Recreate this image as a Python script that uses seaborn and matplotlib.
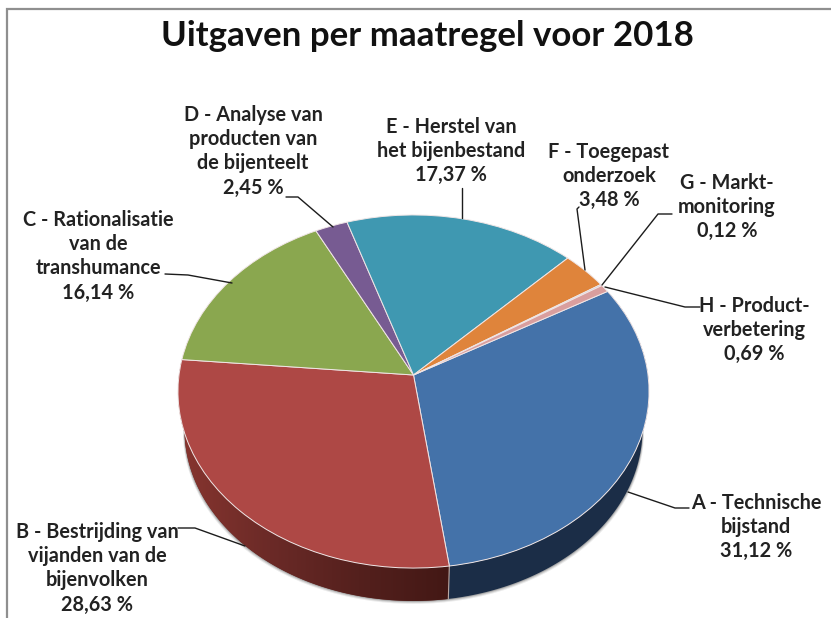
import numpy as np
import matplotlib
matplotlib.use("Agg")
import matplotlib.pyplot as plt
import seaborn as sns
from matplotlib.colors import LinearSegmentedColormap
from matplotlib.transforms import Transform

TITLE = "Uitgaven per maatregel voor 2018"
names = ["A - Technische\nbijstand",
         "B - Bestrijding van\nvijanden van de\nbijenvolken",
         "C - Rationalisatie\nvan de\ntranshumance",
         "D - Analyse van\nproducten van\nde bijenteelt",
         "E - Herstel van\nhet bijenbestand",
         "F - Toegepast\nonderzoek",
         "G - Markt-\nmonitoring",
         "H - Product-\nverbetering"]
shares = [31.12, 28.63, 16.14, 2.45, 17.37, 3.48, 0.12, 0.69]
colors = ["#4472a9", "#ae4845", "#8aa74f", "#775b92", "#3f98b1", "#df843b", "#a9bcd9", "#d99e9e"]
label_xy = [(756, 527), (97, 568), (98, 256), (253, 151), (451, 151), (609, 176), (727, 207), (754, 330)]
leaders = [[(628, 492), (675, 508), (689, 508)],
           [(245, 546), (195, 528), (178, 528)],
           [(232, 283), (188, 275), (165, 274)],
           [(333, 227), (298, 197), (286, 197)],
           [(462, 218), (462, 188)],
           [(585, 270), (577, 209), (579, 207)],
           [(602, 285), (658, 214), (672, 214)],
           [(605, 287), (685, 307), (700, 307)]]

sns.set_theme(style="white")
plt.rcParams["font.family"] = ["Lato", "DejaVu Sans"]


class Tilt(Transform):
    """Perspective view of the unit circle."""
    input_dims = output_dims = 2
    is_separable = False
    has_inverse = False

    def __init__(self, cx, cy, s, t, k=0.0935):
        super().__init__()
        self.cx, self.cy, self.s, self.t, self.k = cx, cy, s, t, k

    def transform_non_affine(self, values):
        v = np.asarray(values, dtype=float)
        w = 1 + self.k * v[:, 1]
        return np.column_stack([self.cx + self.s * v[:, 0] / w, self.cy - self.t * v[:, 1] / w])


top = Tilt(413.5, 375, 234.5, 175)
bottom = Tilt(413.5, 413.4, 228, 170)

fig = plt.figure(figsize=(8.31, 6.18), dpi=100, facecolor="white")
ax = fig.add_axes([0, 0, 1, 1])

wedges, _ = ax.pie(shares, colors=sns.color_palette(colors), startangle=30, counterclock=False,
                   wedgeprops=dict(edgecolor="#f0e6e6", linewidth=0.7, zorder=3))
for w in wedges:
    w.set_transform(top + ax.transData)


def wall(theta1, theta2):
    th = np.radians(np.linspace(theta1, theta2, 120))
    unit = np.column_stack([np.cos(th), np.sin(th)])
    return np.vstack([top.transform(unit), bottom.transform(unit)[::-1]])


# soft shadow under the rim
for off, a in [(3.0, 0.08), (2.0, 0.12), (1.0, 0.18)]:
    sh, _ = ax.pie([1], colors=["black"], wedgeprops=dict(linewidth=0, alpha=a, zorder=1))
    sh[0].set_transform(Tilt(413.5, 413.4 + off, 228 + off / 2, 170) + ax.transData)

# side walls (only A and B are visible)
poly_a = ax.fill(*wall(wedges[0].theta1, wedges[0].theta2).T, color="#1b2d47", lw=0, zorder=2)[0]
pts_b = wall(wedges[1].theta1, wedges[1].theta2)
poly_b = ax.fill(*pts_b.T, color="#5f2522", lw=0, zorder=2)[0]
cmap = LinearSegmentedColormap.from_list("side", ["#87352f", "#6b2a27", "#54201d", "#431815"])
im = ax.imshow(np.linspace(0, 1, 256)[None, :], extent=(180, 449, 610, 360), cmap=cmap,
               aspect="auto", zorder=2.1, interpolation="bilinear")
im.set_clip_path(poly_b)
x_edge = bottom.transform(np.array([[np.cos(np.radians(wedges[0].theta1)), np.sin(np.radians(wedges[0].theta1))]]))[0]
x_top = top.transform(np.array([[np.cos(np.radians(wedges[0].theta1)), np.sin(np.radians(wedges[0].theta1))]]))[0]
ax.plot([x_top[0], x_edge[0]], [x_top[1], x_edge[1]], color="#b9a9a5", lw=0.8, zorder=2.5)

ax.set_xlim(0, 831)
ax.set_ylim(618, 0)
ax.set_aspect("auto")
ax.axis("off")

# frame
ax.plot([6.5, 6.5, 831], [618, 9, 9], color="#8f8f8f", lw=1.6, solid_joinstyle="miter", zorder=0, clip_on=False)

ax.text(427, 36, TITLE, ha="center", va="center", fontsize=25.1, fontweight="bold", color="#111111")

for name, v, (x, y), line in zip(names, shares, label_xy, leaders):
    label = f"{name}\n{v:.2f} %".replace(".", ",")
    ax.text(x, y, label, ha="center", va="center", fontsize=14.3, fontweight="bold",
            color="#222222", linespacing=1.27, zorder=6)
    xs, ys = zip(*line)
    ax.plot(xs, ys, color="#1c1c1c", lw=1.0, zorder=5)

fig.savefig("out.png", dpi=100, facecolor="white")
